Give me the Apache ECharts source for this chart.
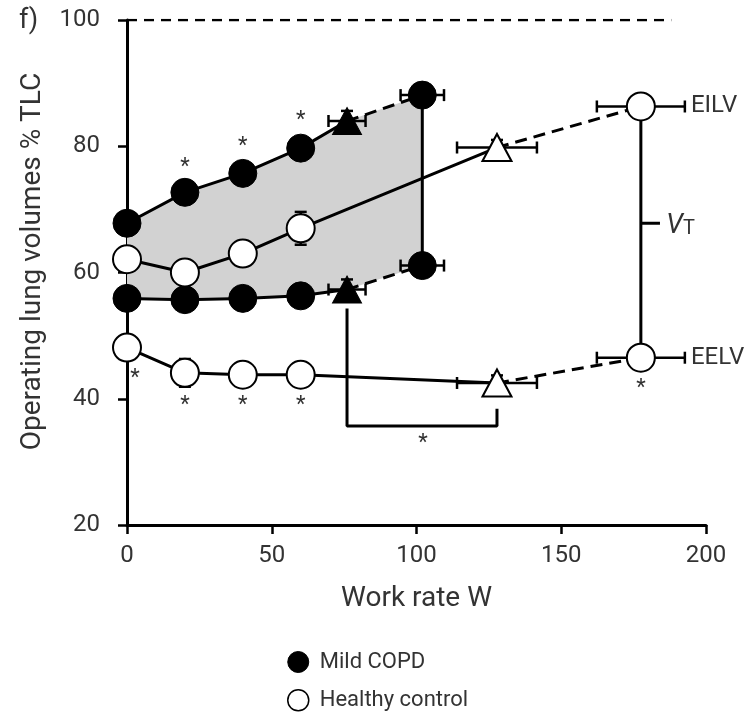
<!DOCTYPE html>
<html><head><meta charset="utf-8">
<script src="https://cdn.jsdelivr.net/npm/echarts@6/dist/echarts.min.js"></script>
<style>html,body{margin:0;padding:0;background:#fff}#c{width:753px;height:712px}</style>
</head><body><div id="c"></div>
<script>
// ---- data ----
const xTicks = [0, 50, 100, 150, 200];
const yTicks = [20, 40, 60, 80, 100];
const copdWork = [0, 20, 40, 60, 76, 102];
const copdEILV = [67.8, 72.7, 75.7, 79.7, 84.0, 88.1];
const copdEELV = [55.9, 55.7, 55.9, 56.3, 57.3, 61.1];
const copdWorkErr = [0, 0, 0, 0, 6.4, 7.5];
const copdEILVErr = [0, 0, 0, 0, 1.6, 0];
const copdEELVErr = [0, 0, 0, 0, 1.6, 0];
const healthyWork = [0, 20, 40, 60, 127.8, 177.5];
const healthyEILV = [62.1, 60.0, 63.0, 67.0, 79.8, 86.3];
const healthyEELV = [48.1, 44.1, 43.8, 43.8, 42.5, 46.5];
const healthyWorkErr = [0, 0, 0, 0, 13.8, 15.2];
const healthyEILVErr = [0, 1.2, 1.9, 2.6, 1.2, 0];
const healthyEELVErr = [0, 2.2, 1.5, 1.5, 1.2, 0];
const tlcLine = [[0, 100], [188, 100]];
const bracket = [[76, 54.3], [76, 35.7], [127.8, 35.7], [127.8, 38.4]];
const vtTick = [[177.5, 67.8], [184.1, 67.8]];
const asterisks = [[20, 76.7], [40, 80.0], [60, 84.1], [2.8, 43.2], [20, 38.9], [40, 38.9], [60, 38.9], [177.5, 41.6], [102.2, 32.9]];
const volLabels = [[194.8, 86.3, 'EILV'], [194.8, 46.5, 'EELV']];
const vtLabel = [186.3, 67.3];
const seriesNames = ['Mild COPD', 'Healthy control'];
const triangleIndex = 4;

// ---- helpers ----
const FONT = 'Roboto, "DejaVu Sans", sans-serif';
const pts = (xs, ys, from, to) => xs.slice(from, to).map((x, i) => [x, ys[from + i]]);
function lineSeries(data, dashed) {
  return {
    type: 'line', data: data, showSymbol: false, symbol: 'none', silent: true, z: 3,
    lineStyle: { color: '#000', width: 3, type: dashed ? [12, 7] : 'solid' },
    animation: false
  };
}
function errData(xs, ys, xe, ye) {
  const out = [];
  xs.forEach((x, i) => { if (xe[i] || ye[i]) out.push([x, ys[i], xe[i], ye[i]]); });
  return out;
}
const errorItems = [].concat(
  errData(copdWork, copdEILV, copdWorkErr, copdEILVErr),
  errData(copdWork, copdEELV, copdWorkErr, copdEELVErr),
  errData(healthyWork, healthyEILV, healthyWorkErr, healthyEILVErr),
  errData(healthyWork, healthyEELV, healthyWorkErr, healthyEELVErr)
);
function markerData(xs, ys) {
  return xs.map((x, i) => ({ value: [x, ys[i]], symbol: i === triangleIndex ? 'triangle' : 'circle', symbolSize: i === triangleIndex ? [29, 27] : 28 }));
}

const chart = echarts.init(document.getElementById('c'), null, { renderer: 'canvas' });
const option = {
  animation: false,
  backgroundColor: '#fff',
  grid: { left: 127, right: 47, top: 20, bottom: 187, containLabel: false },
  xAxis: {
    type: 'value', min: xTicks[0], max: xTicks[xTicks.length - 1], interval: 50,
    name: 'Work rate W', nameLocation: 'middle', nameGap: 60,
    nameTextStyle: { fontSize: 28, color: '#333', fontFamily: FONT },
    axisLine: { show: true, lineStyle: { color: '#000', width: 3 } },
    axisTick: { show: true, inside: false, length: 9, lineStyle: { color: '#000', width: 2.5 } },
    axisLabel: { fontSize: 24, color: '#333', fontFamily: FONT, margin: 19 },
    splitLine: { show: false }
  },
  yAxis: {
    type: 'value', min: yTicks[0], max: yTicks[yTicks.length - 1], interval: 20,
    name: 'Operating lung volumes % TLC', nameLocation: 'middle', nameGap: 80, nameRotate: 90,
    nameTextStyle: { fontSize: 28, color: '#333', fontFamily: FONT, padding: [0, 0, 0, 22] },
    axisLine: { show: true, lineStyle: { color: '#000', width: 3 } },
    axisTick: { show: true, inside: false, length: 9, lineStyle: { color: '#000', width: 2.5 } },
    axisLabel: { fontSize: 24, color: '#333', fontFamily: FONT, margin: 27 },
    splitLine: { show: false }
  },
  legend: {
    orient: 'vertical', left: 287, top: 651, height: 100, padding: 0,
    itemWidth: 21, itemHeight: 21, itemGap: 16,
    textStyle: { fontSize: 22, color: '#333', fontFamily: FONT, padding: [0, 0, 0, 6] },
    data: [
      { name: seriesNames[0], icon: 'circle', itemStyle: { color: '#000', borderColor: '#000', borderWidth: 1 } },
      { name: seriesNames[1], icon: 'circle', itemStyle: { color: '#fff', borderColor: '#000', borderWidth: 1.5 } }
    ]
  },
  graphic: [{ type: 'text', left: 19, top: 8, style: { text: 'f)', font: '27px ' + FONT, fill: '#333' } }],
  series: [
    {
      type: 'custom', silent: true, z: 1, clip: false,
      data: [[copdWork[0], copdEILV[0]]],
      renderItem: function (params, api) {
        const top = copdWork.map((x, i) => api.coord([x, copdEILV[i]]));
        const bot = copdWork.map((x, i) => api.coord([x, copdEELV[i]])).reverse();
        return { type: 'polygon', shape: { points: top.concat(bot) }, style: { fill: '#d2d2d2' } };
      }
    },
    Object.assign(lineSeries(tlcLine, true), { lineStyle: { color: '#000', width: 2.5, type: [10, 7] } }),
    lineSeries(pts(copdWork, copdEILV, 0, 5), false),
    lineSeries(pts(copdWork, copdEILV, 4, 6), true),
    lineSeries(pts(copdWork, copdEELV, 0, 5), false),
    lineSeries(pts(copdWork, copdEELV, 4, 6), true),
    lineSeries([[copdWork[5], copdEILV[5]], [copdWork[5], copdEELV[5]]], false),
    lineSeries(pts(healthyWork, healthyEILV, 0, 5), false),
    lineSeries(pts(healthyWork, healthyEILV, 4, 6), true),
    lineSeries(pts(healthyWork, healthyEELV, 0, 5), false),
    lineSeries(pts(healthyWork, healthyEELV, 4, 6), true),
    lineSeries([[healthyWork[5], healthyEILV[5]], [healthyWork[5], healthyEELV[5]]], false),
    lineSeries(bracket, false),
    lineSeries(vtTick, false),
    {
      type: 'custom', silent: true, z: 4, clip: false, data: errorItems,
      renderItem: function (params, api) {
        const x = api.value(0), y = api.value(1), xe = api.value(2), ye = api.value(3);
        const children = [];
        const st = { stroke: '#000', lineWidth: 2.5 };
        const cap = 6;
        if (xe) {
          const l = api.coord([x - xe, y]), r = api.coord([x + xe, y]);
          children.push({ type: 'line', shape: { x1: l[0], y1: l[1], x2: r[0], y2: r[1] }, style: st });
          children.push({ type: 'line', shape: { x1: l[0], y1: l[1] - cap, x2: l[0], y2: l[1] + cap }, style: st });
          children.push({ type: 'line', shape: { x1: r[0], y1: r[1] - cap, x2: r[0], y2: r[1] + cap }, style: st });
        }
        if (ye) {
          const t = api.coord([x, y + ye]), b = api.coord([x, y - ye]);
          children.push({ type: 'line', shape: { x1: t[0], y1: t[1], x2: b[0], y2: b[1] }, style: st });
          children.push({ type: 'line', shape: { x1: t[0] - cap, y1: t[1], x2: t[0] + cap, y2: t[1] }, style: st });
          children.push({ type: 'line', shape: { x1: b[0] - cap, y1: b[1], x2: b[0] + cap, y2: b[1] }, style: st });
        }
        return { type: 'group', children: children };
      }
    },
    {
      name: seriesNames[0], type: 'scatter', z: 6, silent: true,
      data: markerData(copdWork, copdEILV).concat(markerData(copdWork, copdEELV)),
      itemStyle: { color: '#000', borderColor: '#000', borderWidth: 1, opacity: 1 }
    },
    {
      name: seriesNames[1], type: 'scatter', z: 6, silent: true,
      data: markerData(healthyWork, healthyEILV).concat(markerData(healthyWork, healthyEELV)),
      itemStyle: { color: '#fff', borderColor: '#000', borderWidth: 2, opacity: 1 }
    },
    {
      type: 'custom', silent: true, z: 7, clip: false, data: asterisks,
      renderItem: function (params, api) {
        const p = api.coord([api.value(0), api.value(1)]);
        return { type: 'text', x: p[0], y: p[1], style: { text: '*', font: '22px ' + FONT, fill: '#333', align: 'center', verticalAlign: 'middle' } };
      }
    },
    {
      type: 'custom', silent: true, z: 7, clip: false,
      data: volLabels.map(d => ({ value: [d[0], d[1]], name: d[2] })),
      renderItem: function (params, api) {
        const p = api.coord([api.value(0), api.value(1)]);
        return { type: 'text', x: p[0], y: p[1], style: { text: volLabels[params.dataIndex][2], font: '24px ' + FONT, fill: '#333', align: 'left', verticalAlign: 'middle' } };
      }
    },
    {
      type: 'custom', silent: true, z: 7, clip: false, data: [vtLabel],
      renderItem: function (params, api) {
        const p = api.coord([api.value(0), api.value(1)]);
        return { type: 'text', x: p[0], y: p[1], style: {
          text: '{v|V}{t|T}', align: 'left', verticalAlign: 'middle', fill: '#333',
          rich: { v: { fontSize: 27, fontStyle: 'italic', fontFamily: FONT, fill: '#333' }, t: { fontSize: 20, fontFamily: FONT, fill: '#333', padding: [5, 0, 0, 0] } }
        } };
      }
    }
  ]
};
chart.setOption(option);
</script>
</body></html>
